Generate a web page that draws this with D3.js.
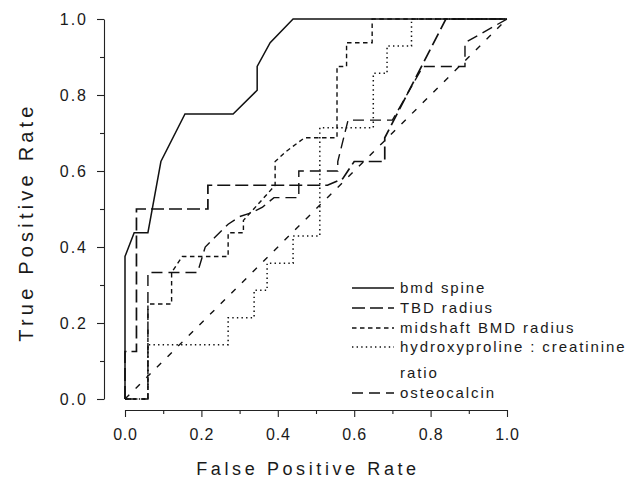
<!DOCTYPE html>
<html>
<head>
<meta charset="utf-8">
<script src="https://cdn.jsdelivr.net/npm/d3@7"></script>
<style>
  html, body { margin: 0; padding: 0; background: #fff; }
  svg { display: block; font-family: "Liberation Sans", Arial, Helvetica, sans-serif; }
</style>
</head>
<body>
<svg id="chart" width="639" height="491"></svg>
<script>
// ROC points, [false positive rate, true positive rate]
const bmdSpine = [[0,0],[0,0.375],[0.024,0.4375],[0.06,0.4375],[0.094,0.625],[0.157,0.75],[0.283,0.75],
  [0.346,0.8125],[0.346,0.875],[0.38,0.9375],[0.44,1],[1,1]]
const tbdRadius = [[0,0],[0,0.125],[0.03,0.125],[0.03,0.5],[0.217,0.5],[0.217,0.5625],[0.51,0.5625],
  [0.53,0.5625],[0.57,0.58],[0.6,0.625],[0.68,0.625],[0.68,0.6875],[0.84,1],[1,1]]
const midshaftRadius = [[0,0],[0.06,0],[0.06,0.25],[0.122,0.25],[0.122,0.333],[0.15,0.375],[0.27,0.375],
  [0.27,0.4375],[0.31,0.4375],[0.31,0.47],[0.393,0.5625],[0.393,0.625],[0.42,0.65],[0.47,0.6875],
  [0.555,0.6875],[0.555,0.875],[0.58,0.875],[0.58,0.9375],[0.647,0.9375],[0.647,1],[1,1]]
const hydroxyproline = [[0,0],[0.06,0],[0.06,0.143],[0.27,0.143],[0.27,0.214],[0.338,0.214],[0.338,0.286],
  [0.372,0.286],[0.372,0.357],[0.44,0.357],[0.44,0.429],[0.51,0.429],[0.51,0.714],[0.65,0.714],
  [0.65,0.857],[0.686,0.857],[0.686,0.929],[0.75,0.929],[0.75,1],[1,1]]
const osteocalcin = [[0,0],[0.06,0],[0.06,0.333],[0.19,0.333],[0.21,0.4],[0.24,0.43],[0.27,0.46],
  [0.3,0.48],[0.33,0.49],[0.36,0.505],[0.39,0.53],[0.455,0.53],[0.455,0.6],[0.557,0.6],[0.557,0.625],
  [0.584,0.734],[0.7,0.734],[0.78,0.875],[0.89,0.875],[0.89,0.9375],[1,1]]
const chanceLine = [[0,0],[1,1]]

const majorTicks = [0, 0.2, 0.4, 0.6, 0.8, 1.0]
const minorTicks = [0.1, 0.3, 0.5, 0.7, 0.9]
const legendLabels = ["bmd spine", "TBD radius", "midshaft BMD radius", "hydroxyproline : creatinine", "osteocalcin"]

const svg = d3.select("#chart")
svg.append("rect").attr("width", 639).attr("height", 491).attr("fill", "#fff")

const x = d3.scaleLinear().domain([0, 1]).range([125, 507])
const y = d3.scaleLinear().domain([0, 1]).range([399, 19])
const fmt = d3.format(".1f")

// y axis sits a bit left of the plot
const yAxis = svg.append("g").attr("transform", "translate(104,0)")
  .call(d3.axisLeft(y).tickValues(majorTicks).tickFormat(fmt).tickSize(7).tickSizeOuter(0).tickPadding(9))
svg.append("g").attr("transform", "translate(104,0)")
  .call(d3.axisLeft(y).tickValues(minorTicks).tickFormat("").tickSize(4).tickSizeOuter(0))
  .select(".domain").remove()

// x axis drawn under the plot
const xAxis = svg.append("g").attr("transform", "translate(0,410)")
  .call(d3.axisBottom(x).tickValues(majorTicks).tickFormat(fmt).tickSize(7).tickSizeOuter(0).tickPadding(12))
svg.append("g").attr("transform", "translate(0,410)")
  .call(d3.axisBottom(x).tickValues(minorTicks).tickFormat("").tickSize(4).tickSizeOuter(0))
  .select(".domain").remove()

svg.selectAll(".tick line, .domain").attr("stroke", "#222").attr("stroke-width", 1.1)
yAxis.selectAll("text").attr("font-size", 16).attr("fill", "#1a1a1a").style("letter-spacing", "2px")
xAxis.selectAll("text").attr("font-size", 16).attr("fill", "#1a1a1a").style("letter-spacing", "0.8px")

svg.append("text")
  .attr("x", 308).attr("y", 475)
  .attr("text-anchor", "middle").attr("font-size", 18).attr("fill", "#1a1a1a")
  .style("letter-spacing", "3.6px")
  .text("False Positive Rate")

svg.append("text")
  .attr("transform", "translate(33,222) rotate(-90)")
  .attr("text-anchor", "middle").attr("font-size", 20).attr("fill", "#1a1a1a")
  .style("letter-spacing", "4.2px")
  .text("True Positive Rate")

const line = d3.line().x(d => x(d[0])).y(d => y(d[1]))

const series = [
  {data: bmdSpine, dash: null, w: 1.5},
  {data: tbdRadius, dash: "13,5", w: 1.7},
  {data: midshaftRadius, dash: "4.5,3.5", w: 1.4},
  {data: hydroxyproline, dash: "1.4,3.2", w: 1.5},
  {data: osteocalcin, dash: "11,6", w: 1.4}
]

svg.append("path")
  .attr("d", line(chanceLine))
  .attr("fill", "none").attr("stroke", "#111").attr("stroke-width", 1.4)
  .attr("stroke-dasharray", "6,9")

series.forEach(s => {
  svg.append("path")
    .attr("d", line(s.data))
    .attr("fill", "none")
    .attr("stroke", "#111")
    .attr("stroke-width", s.w)
    .attr("stroke-dasharray", s.dash)
    .attr("stroke-linejoin", "miter")
})

// legend
const rowsY = [288, 308, 328, 347, 393]
const legend = svg.append("g")
series.forEach((s, i) => {
  legend.append("line")
    .attr("x1", 352).attr("x2", 394).attr("y1", rowsY[i]).attr("y2", rowsY[i])
    .attr("stroke", "#111").attr("stroke-width", s.w)
    .attr("stroke-dasharray", s.dash)
  legend.append("text")
    .attr("x", 400).attr("y", rowsY[i]).attr("dy", "0.35em")
    .attr("font-size", 15).attr("fill", "#1a1a1a")
    .style("letter-spacing", "1.9px")
    .text(legendLabels[i])
})
legend.append("text")
  .attr("x", 400).attr("y", 373).attr("dy", "0.35em")
  .attr("font-size", 15).attr("fill", "#1a1a1a")
  .style("letter-spacing", "1.9px")
  .text("ratio")
</script>
</body>
</html>
